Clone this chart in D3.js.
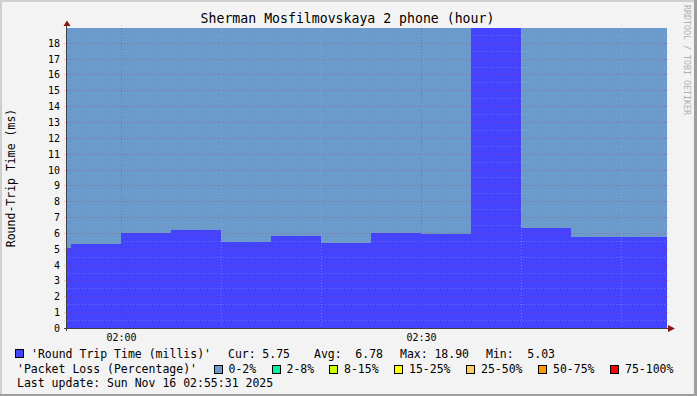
<!DOCTYPE html>
<html><head><meta charset="utf-8">
<script src="https://cdn.jsdelivr.net/npm/d3@7"></script>
<style>
html,body{margin:0;padding:0;background:#f3f3f3;}
svg{display:block;}
text{font-family:"DejaVu Sans Mono",monospace;}
</style></head>
<body>
<script>
// ---- data ----
const title = "Sherman Mosfilmovskaya 2 phone (hour)";
const yLabel = "Round-Trip Time (ms)";
const watermark = "RRDTOOL / TOBI OETIKER";
const windowStart = "01:54:36";
const windowEnd = "02:54:36";
const stepStarts = ["01:54:36","01:55:00","02:00:00","02:05:00","02:10:00","02:15:00","02:20:00","02:25:00","02:30:00","02:35:00","02:40:00","02:45:00","02:50:00"];
const rttValues = [5.03, 5.31, 6.02, 6.19, 5.43, 5.83, 5.37, 6.02, 5.96, 18.90, 6.34, 5.76, 5.75];
const lossValues = [0,0,0,0,0,0,0,0,0,0,0,0,0];
const yMax = 18.93;
const yMajorTicks = [0,1,2,3,4,5,6,7,8,9,10,11,12,13,14,15,16,17,18];
const xMajorTicks = ["02:00:00","02:30:00"];
const xMinorTicks = ["02:10:00","02:20:00","02:40:00","02:50:00"];
const xTickLabels = ["02:00","02:30"];
const rttLegend = "'Round Trip Time (millis)'";
const statLabels = ["Cur:","Avg:","Max:","Min:"];
const statValues = ["5.75","6.78","18.90","5.03"];
const lossLegend = "'Packet Loss (Percentage)'";
const lossBuckets = ["0-2%","2-8%","8-15%","15-25%","25-50%","50-75%","75-100%"];
const lossBucketMax = [2, 8, 15, 25, 50, 75, 100];
const lossColors = ["#6a9bcc","#00f0a8","#ccff00","#ffff00","#ffcc66","#ff9900","#ff0000"];
const lastUpdate = "Last update: Sun Nov 16 02:55:31 2025";

// ---- drawing ----
const W = 697, H = 396;
const parse = d3.timeParse("%H:%M:%S");
const svg = d3.select("body").append("svg").attr("width", W).attr("height", H);

svg.append("rect").attr("width", W).attr("height", H).attr("fill", "#f3f3f3");
// shade border
svg.append("path").attr("d", `M0,0H${W}V2H2V${H}H0Z`).attr("fill", "#cfcfcf");
svg.append("path").attr("d", `M${W},${H}H0V${H-2}H${W-3}V0H${W}Z`).attr("fill", "#9e9e9e");

const x = d3.scaleTime().domain([parse(windowStart), parse(windowEnd)]).range([67, 667]);
const y = d3.scaleLinear().domain([0, yMax]).range([328, 28]);

const steps = stepStarts.map((s, i) => ({t0: parse(s), t1: i < stepStarts.length - 1 ? parse(stepStarts[i+1]) : parse(windowEnd), v: rttValues[i], loss: lossValues[i]}));

// packet loss background area
svg.append("g").selectAll("rect").data(steps).join("rect")
  .attr("x", d => x(d.t0)).attr("width", d => x(d.t1) - x(d.t0))
  .attr("y", y(yMax)).attr("height", y(0) - y(yMax))
  .attr("fill", d => lossColors[lossBucketMax.findIndex(m => d.loss <= m)])
  .attr("shape-rendering", "crispEdges");

// RTT area (step)
const pts = steps.map(d => ({t: d.t0, v: d.v}));
pts.push({t: parse(windowEnd), v: rttValues[rttValues.length - 1]});
svg.append("path").datum(pts)
  .attr("d", d3.area().x(d => x(d.t)).y0(y(0)).y1(d => y(d.v)).curve(d3.curveStepAfter))
  .attr("fill", "#4444ff").attr("shape-rendering", "crispEdges");

// grid
const g = svg.append("g").attr("shape-rendering", "crispEdges");
const yMinor = d3.range(0.5, yMax, 1);
g.selectAll(".ymin").data(yMinor).join("line")
  .attr("x1", 64).attr("x2", 670)
  .attr("y1", d => Math.round(y(d)) + 0.5).attr("y2", d => Math.round(y(d)) + 0.5)
  .attr("stroke", "#b0b0b0").attr("stroke-opacity", 0.4).attr("stroke-dasharray", "1,2");
g.selectAll(".xmin").data(xMinorTicks).join("line")
  .attr("x1", d => Math.round(x(parse(d))) + 0.5).attr("x2", d => Math.round(x(parse(d))) + 0.5)
  .attr("y1", 25).attr("y2", 331)
  .attr("stroke", "#b0b0b0").attr("stroke-opacity", 0.45).attr("stroke-dasharray", "1,2");
g.selectAll(".ymaj").data(yMajorTicks.filter(d => d > 0)).join("line")
  .attr("x1", 64).attr("x2", 670)
  .attr("y1", d => Math.round(y(d)) + 0.5).attr("y2", d => Math.round(y(d)) + 0.5)
  .attr("stroke", "#ff0000").attr("stroke-opacity", 0.3).attr("stroke-dasharray", "1,2");
g.selectAll(".xmaj").data(xMajorTicks).join("line")
  .attr("x1", d => Math.round(x(parse(d))) + 0.5).attr("x2", d => Math.round(x(parse(d))) + 0.5)
  .attr("y1", 25).attr("y2", 331)
  .attr("stroke", "#ff0000").attr("stroke-opacity", 0.3).attr("stroke-dasharray", "1,2");

// axes
g.append("line").attr("x1", 64).attr("x2", 670).attr("y1", 328.5).attr("y2", 328.5).attr("stroke", "#404040");
g.append("line").attr("x1", 66.5).attr("x2", 66.5).attr("y1", 24).attr("y2", 331).attr("stroke", "#404040");
svg.append("path").attr("d", "M67,20.5L63.5,26L70.5,26Z").attr("fill", "#8b1414");
svg.append("path").attr("d", "M675,328.5L668,325L668,332Z").attr("fill", "#8b1414");

// y tick labels
svg.append("g").selectAll("text").data(yMajorTicks).join("text")
  .attr("x", 60).attr("y", d => Math.round(y(d)) + 4)
  .attr("text-anchor", "end").attr("font-size", "10px").attr("fill", "#000")
  .text(d => d);
// x tick labels
svg.append("g").selectAll("text").data(xMajorTicks).join("text")
  .attr("x", d => x(parse(d)) + 0.5).attr("y", 341)
  .attr("text-anchor", "middle").attr("font-size", "10px").attr("fill", "#000")
  .text((d, i) => xTickLabels[i]);

// title
svg.append("text").attr("x", 347.5).attr("y", 23).attr("text-anchor", "middle")
  .attr("font-size", "13.2px").attr("fill", "#000").text(title);
// y label
svg.append("text").attr("transform", "translate(15,178) rotate(-90)").attr("text-anchor", "middle")
  .attr("font-size", "11.5px").attr("fill", "#000").text(yLabel);
// watermark
svg.append("text").attr("transform", "translate(684,5) rotate(90)").attr("text-anchor", "start")
  .attr("font-size", "8.3px").attr("fill", "#b0b0b0").text(watermark);

// legend
const lf = "11.5px";
const leg = svg.append("g").attr("font-size", lf).attr("fill", "#000");
leg.append("rect").attr("x", 15.5).attr("y", 349.5).attr("width", 8).attr("height", 8)
  .attr("fill", "#4444ff").attr("stroke", "#000").attr("stroke-width", 1).attr("shape-rendering", "crispEdges");
leg.append("text").attr("x", 31).attr("y", 358).text(rttLegend);
const statLabelX = [228, 314, 400, 486];
const statValueX = [290, 383, 469, 555];
statLabels.forEach((s, i) => {
  leg.append("text").attr("x", statLabelX[i]).attr("y", 358).text(s);
  leg.append("text").attr("x", statValueX[i]).attr("y", 358).attr("text-anchor", "end").text(statValues[i]);
});
leg.append("text").attr("x", 17).attr("y", 372.5).text(lossLegend);
const bucketX = [228.5, 286.5, 344, 409, 481, 553, 625];
lossBuckets.forEach((b, i) => {
  leg.append("rect").attr("x", bucketX[i] - 15 + 0.5).attr("y", 365.5).attr("width", 8).attr("height", 8)
    .attr("fill", lossColors[i]).attr("stroke", "#000").attr("shape-rendering", "crispEdges");
  leg.append("text").attr("x", bucketX[i]).attr("y", 372.5).text(b);
});
leg.append("text").attr("x", 17).attr("y", 386.5).text(lastUpdate);
</script>
</body></html>
